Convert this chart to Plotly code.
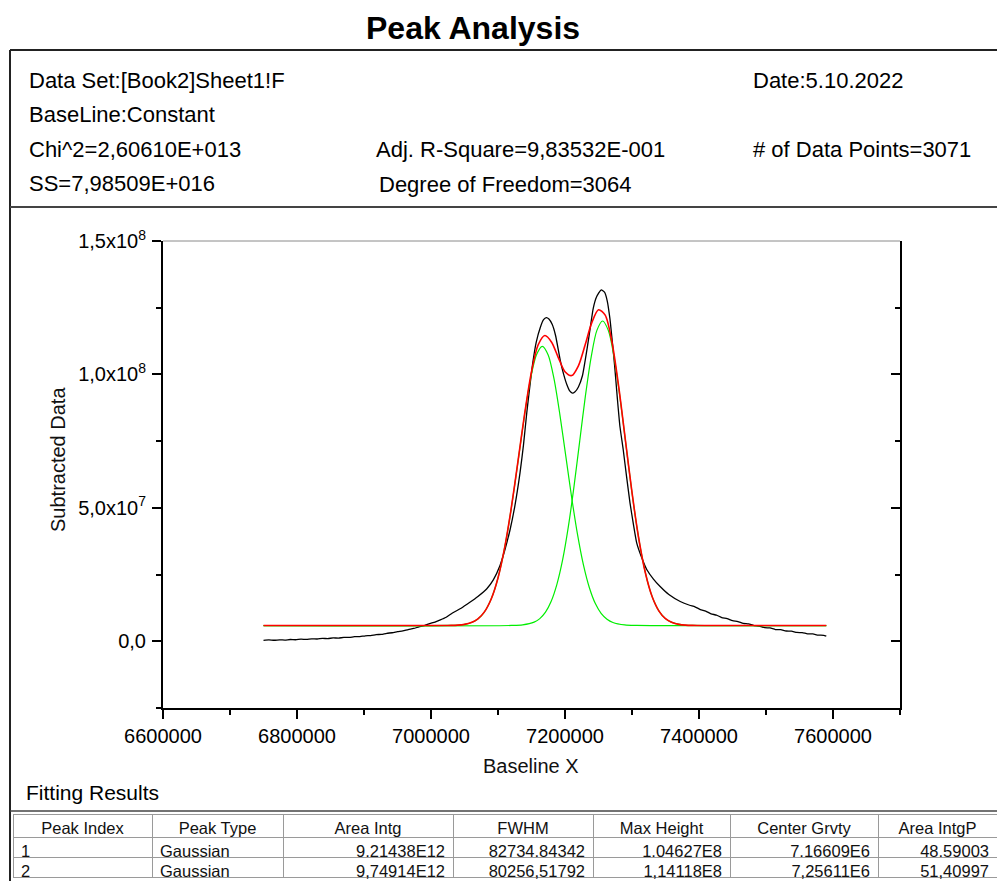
import plotly.graph_objects as go

W, H = 997, 881
FONT = "Liberation Sans, Arial, sans-serif"
M = 1e6  # values below are typed in millions

# ---------------- data ----------------
black_x = [6750000, 6758000, 6766000, 6774000, 6782000, 6790000, 6798000, 6806000, 6814000, 6822000,
           6830000, 6838000, 6846000, 6854000, 6862000, 6870000, 6878000, 6886000, 6894000, 6902000,
           6910000, 6918000, 6926000, 6934000, 6942000, 6950000, 6958000, 6966000, 6974000, 6982000,
           6990000, 6998000, 7006000, 7014000, 7022000, 7032000, 7045000, 7058000, 7070000, 7083000,
           7093000, 7103000, 7110000, 7118000, 7125000, 7133000, 7138000, 7143000, 7148000, 7152000,
           7157000, 7163000, 7168000, 7172000, 7176000, 7181000, 7186000, 7193000, 7198000, 7203000,
           7207000, 7211000, 7215000, 7220000, 7226000, 7233000, 7238000, 7242000, 7247000, 7254000,
           7259000, 7263000, 7267000, 7270000, 7274000, 7278000, 7282000, 7287000, 7292000, 7297000,
           7302000, 7307000, 7315000, 7322000, 7332000, 7342000, 7355000, 7372000, 7386000, 7394000,
           7402000, 7410000, 7418000, 7426000, 7434000, 7442000, 7450000, 7458000, 7466000, 7474000,
           7482000, 7490000, 7498000, 7506000, 7514000, 7522000, 7530000, 7538000, 7546000, 7554000,
           7562000, 7570000, 7578000, 7586000, 7590000]
black_y = [0.35, 0.52, 0.38, 0.55, 0.47, 0.66, 0.58, 0.79, 0.70, 0.92,
           0.85, 1.08, 1.02, 1.25, 1.20, 1.46, 1.44, 1.72, 1.74, 2.06,
           2.12, 2.48, 2.60, 3.00, 3.20, 3.60, 3.90, 4.40, 4.80, 5.40,
           5.90, 6.60, 7.20, 8.00, 8.90, 10.6, 12.4, 14.6, 16.8, 19.6,
           23.0, 28.4, 34.0, 41.8, 50.5, 63.4, 73.5, 85.8, 96.5, 104.5,
           112.0, 117.5, 120.5, 121.3, 120.8, 118.7, 114.5, 105.2, 100.0, 96.0,
           93.8, 93.0, 93.5, 95.3, 99.5, 109.7, 118.0, 124.6, 129.0, 131.7,
           130.8, 127.6, 121.0, 113.8, 103.5, 91.4, 80.5, 71.6, 61.5, 51.9,
           44.0, 36.9, 31.0, 26.9, 23.3, 20.5, 17.5, 14.9, 13.5, 12.9,
           11.9, 11.3, 10.3, 9.8, 8.9, 8.5, 7.7, 7.4, 6.7, 6.5,
           5.9, 5.7, 5.1, 5.0, 4.4, 4.35, 3.85, 3.8, 3.3, 3.25,
           2.8, 2.75, 2.3, 2.25, 1.9]

fit_x = [6750000, 7000000, 7010000, 7020000, 7030000, 7040000, 7050000, 7060000, 7070000, 7080000,
         7090000, 7100000, 7110000, 7120000, 7130000, 7140000, 7150000, 7160000, 7170000, 7180000,
         7190000, 7200000, 7210000, 7220000, 7230000, 7240000, 7250000, 7260000, 7270000, 7280000,
         7290000, 7300000, 7310000, 7320000, 7330000, 7340000, 7350000, 7360000, 7370000, 7380000,
         7390000, 7400000, 7410000, 7590000]
fit_y = [5.90, 5.90, 5.91, 5.92, 5.96, 6.07, 6.35, 7.00, 8.39, 11.10,
         15.94, 23.74, 35.18, 50.23, 67.79, 85.65, 101.01, 111.11, 114.58, 112.08,
         106.31, 101.02, 99.57, 103.24, 111.00, 119.41, 124.24, 122.22, 112.25, 95.71,
         75.71, 55.77, 38.61, 25.59, 16.78, 11.42, 8.47, 7.00, 6.33, 6.05,
         5.95, 5.92, 5.90, 5.90]

peak1_x = [6750000, 7025600, 7043100, 7060700, 7069500, 7078300, 7087000, 7095800, 7104600, 7113400,
           7122200, 7131000, 7139700, 7148500, 7157300, 7166100, 7174900, 7183700, 7192400, 7201200,
           7210000, 7218800, 7227600, 7236400, 7245100, 7253900, 7262700, 7271500, 7289100, 7306600,
           7590000]
peak1_y = [5.90, 5.93, 6.13, 7.06, 8.29, 10.49, 14.23, 20.06, 28.53, 39.87,
           53.80, 69.36, 84.87, 98.23, 107.30, 110.53, 107.30, 98.23, 84.87, 69.36,
           53.80, 39.87, 28.53, 20.06, 14.23, 10.49, 8.29, 7.06, 6.13, 5.93,
           5.90]

peak2_x = [6750000, 7119800, 7136800, 7153900, 7162400, 7170900, 7179400, 7187900, 7196500, 7205000,
           7213500, 7222000, 7230500, 7239100, 7247600, 7256100, 7264600, 7273200, 7281700, 7290200,
           7298700, 7307200, 7315800, 7324300, 7332800, 7341300, 7349800, 7358400, 7375400, 7392400,
           7590000]
peak2_y = [5.90, 5.93, 6.15, 7.17, 8.50, 10.91, 14.98, 21.34, 30.58, 42.95,
           58.14, 75.11, 92.04, 106.61, 116.50, 120.02, 116.50, 106.61, 92.04, 75.11,
           58.14, 42.95, 30.58, 21.34, 14.98, 10.91, 8.50, 7.17, 6.15, 5.93,
           5.90]

y_tick_vals = [0, 5e7, 1e8, 1.5e8]
y_tick_text = ["0,0", "5,0x10<sup>7</sup>", "1,0x10<sup>8</sup>", "1,5x10<sup>8</sup>"]
y_minor_vals = [-2.5e7, 2.5e7, 7.5e7, 1.25e8]

table_header = ["Peak Index", "Peak Type", "Area Intg", "FWHM", "Max Height", "Center Grvty", "Area IntgP"]
peak_index = ["1", "2"]
peak_type = ["Gaussian", "Gaussian"]
area_intg = ["9,21438E12", "9,74914E12"]
fwhm = ["82734,84342", "80256,51792"]
max_height = ["1,04627E8", "1,14118E8"]
center_grvty = ["7,16609E6", "7,25611E6"]
area_intgp = ["48,59003", "51,40997"]

info_left = ["Data Set:[Book2]Sheet1!F", "BaseLine:Constant", "Chi^2=2,60610E+013", "SS=7,98509E+016"]
info_mid = ["Adj. R-Square=9,83532E-001", "Degree of Freedom=3064"]
info_right = ["Date:5.10.2022", "# of Data Points=3071"]


def fx(p):
    return p / W


def fy(p):
    return 1 - p / H


fig = go.Figure()

fig.add_trace(go.Scatter(x=black_x, y=[v * M for v in black_y], mode="lines",
                         line=dict(color="black", width=1.3, shape="spline", smoothing=0.5),
                         showlegend=False, hoverinfo="skip"))
fig.add_trace(go.Scatter(x=peak1_x, y=[v * M for v in peak1_y], mode="lines",
                         line=dict(color="#00ee00", width=1.2, shape="spline", smoothing=0.8),
                         showlegend=False, hoverinfo="skip"))
fig.add_trace(go.Scatter(x=peak2_x, y=[v * M for v in peak2_y], mode="lines",
                         line=dict(color="#00ee00", width=1.2, shape="spline", smoothing=0.8),
                         showlegend=False, hoverinfo="skip"))
fig.add_trace(go.Scatter(x=fit_x, y=[v * M for v in fit_y], mode="lines",
                         line=dict(color="#ff0000", width=1.6, shape="spline", smoothing=0.8),
                         showlegend=False, hoverinfo="skip"))
# carrier for the right-hand axis
fig.add_trace(go.Scatter(x=[None], y=[None], yaxis="y2", showlegend=False, hoverinfo="skip"))

fig.add_trace(go.Table(
    domain=dict(x=[fx(13), 1.0], y=[0, fy(814)]),
    columnwidth=[139, 131, 170, 140, 137, 148, 119],
    header=dict(values=table_header, align="center", height=23,
                font=dict(family=FONT, size=16.5, color="#111111"),
                line=dict(color="#9a9a9a", width=1), fill=dict(color="white")),
    cells=dict(values=[peak_index, peak_type, area_intg, fwhm, max_height, center_grvty, area_intgp],
               align=["left", "left", "right", "right", "right", "right", "right"], height=20,
               font=dict(family=FONT, size=16.5, color="#111111"),
               line=dict(color="#9a9a9a", width=1), fill=dict(color="white")),
))

axis_common = dict(showgrid=False, zeroline=False, showline=True, linewidth=2, linecolor="black",
                   tickwidth=2, tickcolor="black", ticklen=9, automargin=False)

fig.update_layout(
    width=W, height=H, margin=dict(l=0, r=0, t=0, b=0, pad=0, autoexpand=False),
    paper_bgcolor="white", plot_bgcolor="white", showlegend=False,
    xaxis=dict(domain=[fx(163), fx(900)], range=[6600000, 7700000],
               tickmode="linear", tick0=6600000, dtick=200000, tickformat="d",
               ticks="outside", tickfont=dict(family=FONT, size=20, color="black"),
               minor=dict(tickmode="linear", tick0=6600000, dtick=100000, ticks="outside",
                          ticklen=5, tickwidth=2, tickcolor="black"),
               anchor="y", **axis_common),
    yaxis=dict(domain=[fy(708), fy(241)], range=[-2.5e7, 1.5e8],
               tickmode="array", tickvals=y_tick_vals, ticktext=y_tick_text,
               ticks="outside", tickfont=dict(family=FONT, size=20, color="black"),
               minor=dict(tickmode="array", tickvals=y_minor_vals, ticks="outside",
                          ticklen=5, tickwidth=2, tickcolor="black"),
               ticklabelstandoff=2, anchor="x", **axis_common),
    yaxis2=dict(overlaying="y", side="right", range=[-2.5e7, 1.5e8], anchor="x",
                tickmode="array", tickvals=y_tick_vals, showticklabels=False, ticks="inside",
                minor=dict(tickmode="array", tickvals=y_minor_vals, ticks="inside",
                           ticklen=5, tickwidth=2, tickcolor="black"),
                **axis_common),
)

shapes = [
    # top border of the plot (thin grey)
    dict(type="line", xref="x domain", yref="y domain", x0=0, x1=1, y0=1, y1=1,
         line=dict(color="#8a8a8a", width=1)),
    # report frame
    dict(type="line", xref="paper", yref="paper", x0=fx(10), x1=1.0, y0=fy(50), y1=fy(50),
         line=dict(color="#222222", width=2)),
    dict(type="line", xref="paper", yref="paper", x0=fx(10), x1=fx(10), y0=fy(50), y1=0,
         line=dict(color="#222222", width=2)),
    dict(type="line", xref="paper", yref="paper", x0=fx(10), x1=1.0, y0=fy(207), y1=fy(207),
         line=dict(color="#444444", width=2)),
    dict(type="line", xref="paper", yref="paper", x0=fx(10), x1=1.0, y0=fy(811), y1=fy(811),
         line=dict(color="#444444", width=1.5)),
]
fig.update_layout(shapes=shapes)

ann = []
ann.append(dict(text="<b>Peak Analysis</b>", x=fx(473), y=fy(28), xanchor="center", yanchor="middle",
                font=dict(family=FONT, size=32, color="black")))
for i, t in enumerate(info_left):
    ann.append(dict(text=t, x=fx(27), y=fy(80 + i * 34.5), xanchor="left", yanchor="middle",
                    font=dict(family=FONT, size=22, color="black")))
ann.append(dict(text=info_mid[0], x=fx(374), y=fy(149), xanchor="left", yanchor="middle",
                font=dict(family=FONT, size=22, color="black")))
ann.append(dict(text=info_mid[1], x=fx(377), y=fy(184), xanchor="left", yanchor="middle",
                font=dict(family=FONT, size=22, color="black")))
ann.append(dict(text=info_right[0], x=fx(751), y=fy(80), xanchor="left", yanchor="middle",
                font=dict(family=FONT, size=22, color="black")))
ann.append(dict(text=info_right[1], x=fx(751), y=fy(149), xanchor="left", yanchor="middle",
                font=dict(family=FONT, size=22, color="black")))
ann.append(dict(text="Subtracted Data", x=fx(58), y=fy(460), textangle=-90, xanchor="center",
                yanchor="middle", font=dict(family=FONT, size=20, color="#111111")))
ann.append(dict(text="Baseline X", x=fx(531), y=fy(766), xanchor="center", yanchor="middle",
                font=dict(family=FONT, size=20, color="#111111")))
ann.append(dict(text="Fitting Results", x=fx(24), y=fy(792), xanchor="left", yanchor="middle",
                font=dict(family=FONT, size=21, color="black")))
for a in ann:
    a.update(xref="paper", yref="paper", showarrow=False)
fig.update_layout(annotations=ann)

fig.write_html("out.html")
